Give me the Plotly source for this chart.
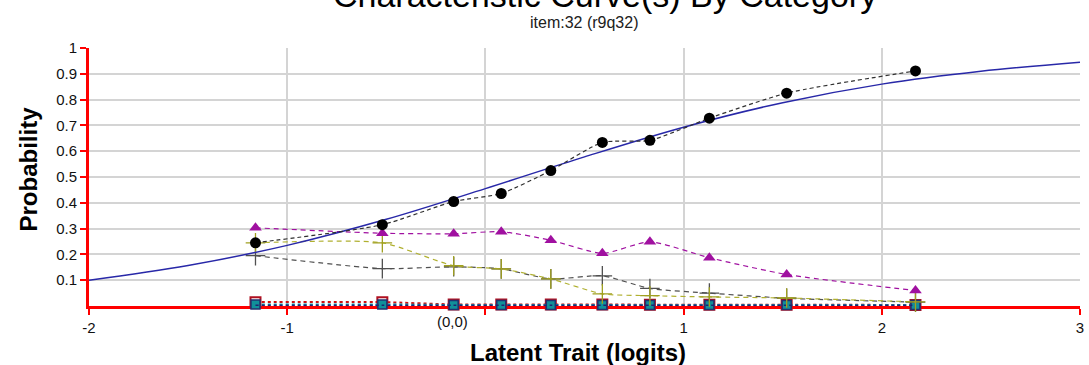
import plotly.graph_objects as go

# Ability-group means (logits) where the empirical proportions are plotted
group_x = [-1.16, -0.52, -0.16, 0.08, 0.33, 0.59, 0.83, 1.13, 1.52, 2.17]

# Observed proportions per response category
obs_black = [0.245, 0.315, 0.405, 0.436, 0.525, 0.634, 0.642, 0.728, 0.825, 0.911]
obs_magenta = [0.303, 0.282, 0.280, 0.288, 0.255, 0.204, 0.249, 0.187, 0.122, 0.060]
obs_olive = [0.245, 0.245, 0.156, 0.144, 0.105, 0.047, 0.040, 0.035, 0.031, 0.016]
obs_gray = [0.195, 0.145, 0.152, 0.144, 0.105, 0.117, 0.068, 0.050, 0.030, 0.015]
obs_red = [0.015, 0.015, 0.006, 0.006, 0.006, 0.006, 0.005, 0.005, 0.005, 0.004]
obs_teal = [0.006, 0.006, 0.004, 0.004, 0.004, 0.004, 0.004, 0.004, 0.004, 0.004]
obs_blue = [-0.003, -0.003, -0.003, -0.003, -0.003, -0.003, -0.003, -0.003, -0.003, -0.003]
obs_navy = [0.002, 0.002, 0.002, 0.002, 0.002, 0.002, 0.002, 0.002, 0.002, 0.002]

# Model characteristic curve
model_x = [-2.0, -1.5, -1.0, -0.5, 0.0, 0.5, 1.0, 1.5, 2.0, 2.5, 3.0]
model_y = [0.100, 0.157, 0.235, 0.336, 0.455, 0.578, 0.693, 0.788, 0.860, 0.910, 0.945]

# Axis ticks (the origin label is placed separately, left of its tick)
x_tickvals = [-2, -1, 0, 1, 2, 3]
x_ticktext = ["-2", "-1", "", "1", "2", "3"]
origin_label = "(0,0)"
y_tickvals = [0.1, 0.2, 0.3, 0.4, 0.5, 0.6, 0.7, 0.8, 0.9, 1.0]
y_ticktext = ["0.1", "0.2", "0.3", "0.4", "0.5", "0.6", "0.7", "0.8", "0.9", "1"]

FONT = "Liberation Sans, Arial, sans-serif"
TICK_FONT = dict(size=15, color="#111111")

fig = go.Figure()


def observed(y, line_color, marker, dash="4px,3px", width=1.2):
    fig.add_trace(go.Scatter(
        x=group_x, y=y, mode="lines+markers",
        line=dict(color=line_color, width=width, dash=dash, shape="spline", smoothing=0.6),
        marker=marker, showlegend=False, cliponaxis=False,
    ))


# Near-zero categories (drawn first so the upper ones sit on top)
observed(obs_red, "#d01010",
         dict(symbol="square-open", size=10, color="#b01020", line=dict(width=2)),
         dash="3px,3px", width=2)
observed(obs_blue, "#1030c0",
         dict(symbol="circle", size=9, color="#1030c0", line=dict(width=0)),
         dash="3px,3px", width=2)
observed(obs_teal, "#10a0b0",
         dict(symbol="square", size=9, color="#10909a", line=dict(color="#203070", width=1.5)),
         dash="3px,3px", width=2)
observed(obs_navy, "#202070", dict(size=1, opacity=0), dash="3px,3px", width=2)

observed(obs_gray, "#505050",
         dict(symbol="cross-thin-open", size=14, color="#505050", line=dict(width=1.3)),
         dash="5px,4px")
observed(obs_olive, "#b0b030",
         dict(symbol="cross-thin-open", size=14, color="#a0a020", line=dict(width=1.3)),
         dash="5px,4px")
observed(obs_magenta, "#a010a0",
         dict(symbol="triangle-up", size=11, color="#a010a0", line=dict(width=0)),
         dash="5px,4px")

# Model curve
fig.add_trace(go.Scatter(
    x=model_x, y=model_y, mode="lines",
    line=dict(color="#2828a8", width=1.5, shape="spline", smoothing=1.0),
    showlegend=False,
))

observed(obs_black, "#303030",
         dict(symbol="circle", size=11, color="#000000", line=dict(width=0)),
         dash="4px,3px")

fig.update_layout(
    width=1089, height=365,
    margin=dict(l=89, r=5, t=48, b=59),
    paper_bgcolor="white", plot_bgcolor="white",
    font=dict(family=FONT, color="#000000"),
    xaxis=dict(
        range=[-2, 3], tickvals=x_tickvals, ticktext=x_ticktext,
        showgrid=True, gridcolor="#d4d4d4", gridwidth=2,
        zeroline=False, showline=True, linecolor="#ff0000", linewidth=3,
        ticks="outside", tickcolor="#ff0000", tickwidth=2, ticklen=6,
        tickfont=TICK_FONT, layer="below traces",
    ),
    yaxis=dict(
        range=[0, 1], tickvals=y_tickvals, ticktext=y_ticktext,
        showgrid=True, gridcolor="#d4d4d4", gridwidth=2,
        zeroline=False, showline=True, linecolor="#ff0000", linewidth=3,
        ticks="outside", tickcolor="#ff0000", tickwidth=2, ticklen=6,
        tickfont=TICK_FONT, layer="below traces",
    ),
    annotations=[
        dict(text=origin_label, xref="x", yref="paper", x=0, y=-0.06,
             xanchor="right", yanchor="middle", xshift=-15, showarrow=False,
             font=TICK_FONT),
        dict(text="Characteristic Curve(s) By Category", xref="paper", yref="paper",
             x=0.5206, y=1.205, xanchor="center", yanchor="middle", showarrow=False,
             font=dict(size=34, color="#000000")),
        dict(text="item:32 (r9q32)", xref="paper", yref="paper",
             x=0.5, y=1.098, xanchor="center", yanchor="middle", showarrow=False,
             font=dict(size=16, color="#202020")),
        dict(text="<b>Probability</b>", xref="paper", yref="paper",
             x=-0.0613, y=0.53, xanchor="center", yanchor="middle", textangle=-90,
             showarrow=False, font=dict(size=24, color="#000000")),
        dict(text="<b>Latent Trait (logits)</b>", xref="paper", yref="paper",
             x=0.493, y=-0.179, xanchor="center", yanchor="middle",
             showarrow=False, font=dict(size=24, color="#000000")),
    ],
)

fig.write_html("out.html")
